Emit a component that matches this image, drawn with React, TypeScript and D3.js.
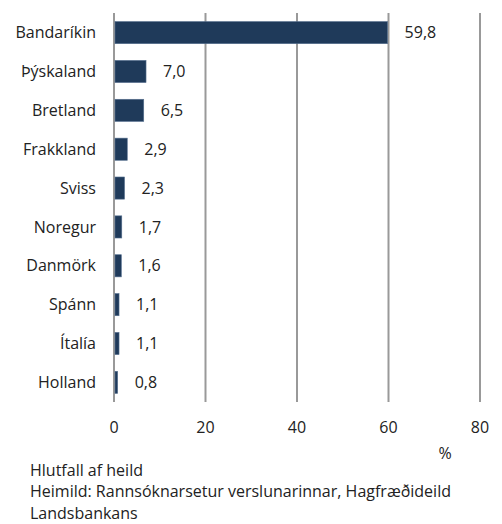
import React, { useEffect, useRef } from 'react';
import * as d3 from 'd3';

const countries = ['Bandaríkin', 'Þýskaland', 'Bretland', 'Frakkland', 'Sviss', 'Noregur', 'Danmörk', 'Spánn', 'Ítalía', 'Holland'];
const shares = [59.8, 7.0, 6.5, 2.9, 2.3, 1.7, 1.6, 1.1, 1.1, 0.8];
const ticks = [0, 20, 40, 60, 80];
const notes = ['Hlutfall af heild', 'Heimild: Rannsóknarsetur verslunarinnar, Hagfræðideild', 'Landsbankans'];

const W = 502;
const H = 524;
const FONT = '"Open Sans", sans-serif';
const FS = 16;

export default function App() {
  const ref = useRef<SVGSVGElement>(null);

  useEffect(() => {
    if (!ref.current) return;
    const svg = d3.select(ref.current);
    svg.selectAll('*').remove();

    const margin = { top: 13, left: 114, right: 22, bottom: 122 };
    const x = d3.scaleLinear().domain([0, 80]).range([margin.left, W - margin.right]);
    const y = d3.scaleBand().domain(countries).range([margin.top, H - margin.bottom]).paddingInner(0.43).paddingOuter(0.22);

    // gridlines
    svg.append('g')
      .selectAll('line')
      .data(ticks)
      .enter()
      .append('line')
      .attr('x1', d => x(d))
      .attr('x2', d => x(d))
      .attr('y1', margin.top)
      .attr('y2', H - margin.bottom)
      .attr('stroke', '#999')
      .attr('stroke-width', 2);

    // bars
    svg.append('g')
      .selectAll('rect')
      .data(shares)
      .enter()
      .append('rect')
      .attr('x', x(0) + 1)
      .attr('y', (d, i) => y(countries[i]) || 0)
      .attr('width', d => x(d) - x(0) - 1)
      .attr('height', y.bandwidth())
      .attr('fill', '#1f3a5a')
      .attr('stroke', '#56708f')
      .attr('stroke-width', 0.6);

    // value labels
    svg.append('g')
      .selectAll('text')
      .data(shares)
      .enter()
      .append('text')
      .attr('x', d => x(d) + 17)
      .attr('y', (d, i) => (y(countries[i]) || 0) + y.bandwidth() / 2)
      .attr('dy', '0.35em')
      .attr('font-family', FONT)
      .attr('font-size', FS)
      .attr('fill', '#222')
      .text(d => d3.format('.1f')(d).replace('.', ','));

    // category labels
    svg.append('g')
      .selectAll('text')
      .data(countries)
      .enter()
      .append('text')
      .attr('x', 96)
      .attr('y', d => (y(d) || 0) + y.bandwidth() / 2)
      .attr('dy', '0.35em')
      .attr('text-anchor', 'end')
      .attr('font-family', FONT)
      .attr('font-size', FS)
      .attr('fill', '#222')
      .text(d => d);

    // x tick labels
    svg.append('g')
      .selectAll('text')
      .data(ticks)
      .enter()
      .append('text')
      .attr('x', d => x(d))
      .attr('y', 427)
      .attr('dy', '0.35em')
      .attr('text-anchor', 'middle')
      .attr('font-family', FONT)
      .attr('font-size', FS)
      .attr('fill', '#222')
      .text(d => d);

    svg.append('text')
      .attr('x', 445)
      .attr('y', 453)
      .attr('dy', '0.35em')
      .attr('text-anchor', 'middle')
      .attr('font-family', FONT)
      .attr('font-size', FS)
      .attr('fill', '#222')
      .text('%');

    svg.append('g')
      .selectAll('text')
      .data(notes)
      .enter()
      .append('text')
      .attr('x', 30)
      .attr('y', (d, i) => 470 + i * 21.5)
      .attr('dy', '0.35em')
      .attr('font-family', FONT)
      .attr('font-size', FS)
      .attr('fill', '#222')
      .text(d => d);
  }, []);

  return (
    <div style={{ position: 'absolute', left: 0, top: 0 }}>
      <svg ref={ref} width={W} height={H} style={{ display: 'block', background: '#fff' }} />
    </div>
  );
}
